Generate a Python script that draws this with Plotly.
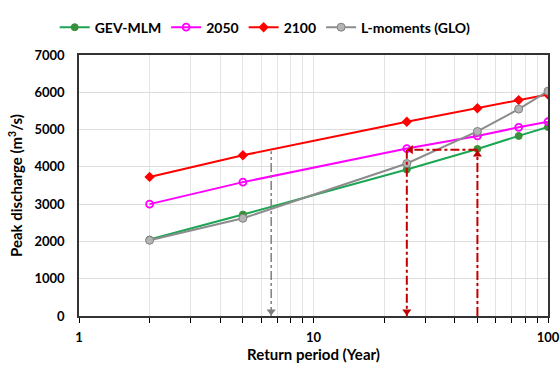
import plotly.graph_objects as go

# Return periods (years) and peak discharge estimates (m3/s)
return_period = [2, 5, 25, 50, 75, 100]
gev_mlm = [2050, 2720, 3930, 4480, 4830, 5070]
proj_2050 = [3000, 3590, 4490, 4830, 5060, 5210]
proj_2100 = [3730, 4310, 5210, 5570, 5790, 5940]
lmom_glo = [2030, 2620, 4090, 4950, 5550, 6030]

# Guide lines reading return periods off the curves
gray_guide_x = 6.6
gray_guide_top = 4420
red_from_x = 50
red_to_x = 25
red_level = 4460

y_ticks = [0, 1000, 2000, 3000, 4000, 5000, 6000, 7000]
x_major = [1, 10, 100]
x_minor = [2, 3, 4, 5, 6, 7, 8, 9, 20, 30, 40, 50, 60, 70, 80, 90]

FONT = "Lato"

fig = go.Figure()

series = [
    ("GEV-MLM", gev_mlm, "#1aa653", dict(symbol="circle", size=7, color="#3a8f3a", line=dict(color="#3a8f3a", width=1))),
    ("2050", proj_2050, "#ff00ff", dict(symbol="circle-open", size=7, color="#ff00ff", line=dict(width=1.8))),
    ("2100", proj_2100, "#ff0000", dict(symbol="diamond", size=8, color="#ff0000")),
    ("L-moments (GLO)", lmom_glo, "#8c8c8c", dict(symbol="circle", size=8, color="#b4b4b4", line=dict(color="#808080", width=1))),
]
for name, vals, col, mk in series:
    fig.add_trace(go.Scatter(x=return_period, y=vals, name=name, mode="lines+markers",
                             line=dict(color=col, width=2), marker=mk))

# dash-dot guide lines
fig.add_shape(type="line", x0=gray_guide_x, x1=gray_guide_x, y0=0, y1=gray_guide_top,
              line=dict(color="#7f7f7f", width=1.5, dash="dashdot"))
for x0, x1, y0, y1 in [(red_from_x, red_from_x, 0, red_level),
                       (red_from_x, red_to_x, red_level, red_level),
                       (red_to_x, red_to_x, red_level, 0)]:
    fig.add_shape(type="line", x0=x0, x1=x1, y0=y0, y1=y1,
                  line=dict(color="#c00000", width=2, dash="dashdot"))

# arrowheads
fig.add_trace(go.Scatter(x=[gray_guide_x], y=[120], mode="markers", showlegend=False,
                         marker=dict(symbol="triangle-down", size=8, color="#7f7f7f")))
fig.add_trace(go.Scatter(x=[red_to_x], y=[120], mode="markers", showlegend=False,
                         marker=dict(symbol="triangle-down", size=8, color="#c00000")))
fig.add_trace(go.Scatter(x=[red_from_x], y=[red_level - 130], mode="markers", showlegend=False,
                         marker=dict(symbol="triangle-up", size=8, color="#c00000")))
fig.add_trace(go.Scatter(x=[red_to_x * 1.04], y=[red_level], mode="markers", showlegend=False,
                         marker=dict(symbol="triangle-left", size=8, color="#c00000")))

fig.update_layout(
    width=560, height=370,
    margin=dict(l=79, r=12, t=55, b=54, autoexpand=False),
    paper_bgcolor="white", plot_bgcolor="white",
    font=dict(family=FONT, size=13, color="black"),
    legend=dict(orientation="h", x=0.397, xanchor="center", y=1.105, yanchor="middle",
                font=dict(family=FONT, size=14, color="black", weight="bold"),
                itemwidth=30, tracegroupgap=0),
    xaxis=dict(type="log", range=[0, 2], tickvals=x_major,
               ticks="outside", ticklen=5, tickcolor="black", tickwidth=1,
               ticklabelstandoff=4,
               showgrid=True, gridcolor="#e4e4e4", gridwidth=1,
               minor=dict(tickvals=x_minor, ticks="outside", ticklen=5, tickcolor="black",
                          tickwidth=1, showgrid=True, gridcolor="#e4e4e4", gridwidth=1),
               showline=True, linecolor="#333333", linewidth=1.5, mirror=True,
               tickfont=dict(family=FONT, size=13, weight="bold"),
               title=dict(text="Return period (Year)", standoff=5,
                          font=dict(family=FONT, size=15, weight="bold"))),
    yaxis=dict(range=[0, 7000], tickvals=y_ticks, ticks="",
               ticklabelstandoff=10,
               showgrid=True, gridcolor="#dcdcdc", gridwidth=1.2,
               showline=True, linecolor="#333333", linewidth=1.5, mirror=True,
               zeroline=False,
               tickfont=dict(family=FONT, size=13, weight="bold"),
               title=dict(text="Peak discharge (m<sup>3</sup>/s)", standoff=8,
                          font=dict(family=FONT, size=15, weight="bold"))),
)

fig.write_html("out.html")
